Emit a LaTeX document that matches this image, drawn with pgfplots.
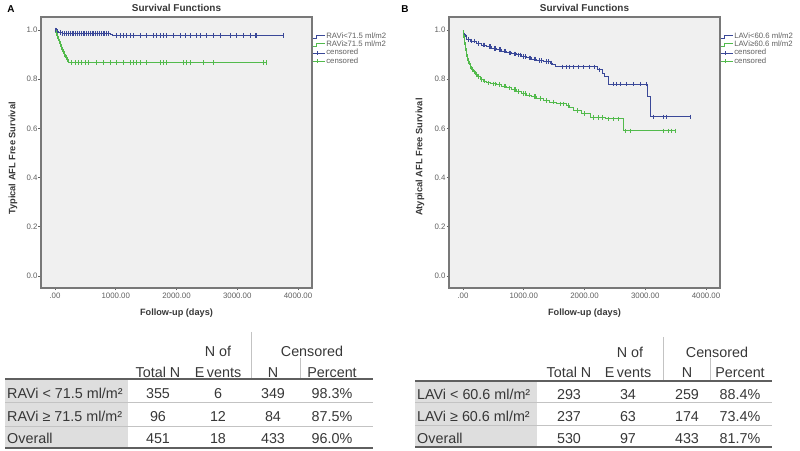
\documentclass[border=0pt]{standalone}
\usepackage{pgfplots}
\pgfplotsset{compat=1.18}
\usepackage{fontspec}
\setmainfont{Liberation Sans}
\definecolor{kmblue}{RGB}{58,72,152}
\definecolor{kmgreen}{RGB}{82,186,76}
\definecolor{tickgray}{RGB}{95,95,95}
\definecolor{txt}{RGB}{55,55,55}
\definecolor{bggray}{RGB}{240,240,240}
\definecolor{framegray}{RGB}{120,120,120}
\definecolor{cellgray}{RGB}{222,222,222}
\definecolor{rulegray}{RGB}{95,95,95}
\definecolor{sepgray}{RGB}{195,195,195}
\pgfplotsset{
 every axis title shift=0pt,
 kmaxis/.style={
  scale only axis, width=271bp, height=271bp,
  xmin=-230, xmax=4230, ymin=-0.049, ymax=1.053,
  xtick={0,1000,2000,3000,4000},
  xticklabels={.00,1000.00,2000.00,3000.00,4000.00},
  ytick={0,0.2,0.4,0.6,0.8,1.0},
  yticklabels={0.0,0.2,0.4,0.6,0.8,1.0},
  tick align=outside, xtick pos=bottom, ytick pos=left,
  major tick length=2.5bp,
  tick style={tickgray, line width=0.6bp},
  axis line style={draw=framegray, line width=1.2bp},
  axis background/.style={fill=bggray},
  ticklabel style={font=\fontsize{7.9}{8.5}\selectfont, text=tickgray},
  yticklabel style={inner xsep=0.8bp},
  xticklabel style={inner ysep=2bp},
  title style={font=\bfseries\fontsize{10}{12}\selectfont, text=txt,
    at={(axis description cs:0.5,1)}, anchor=south, yshift=1.5bp},
  xlabel style={font=\bfseries\fontsize{9.2}{11}\selectfont, text=txt,
    at={(axis description cs:0.5,-0.092)}, anchor=center},
  ylabel style={font=\bfseries\fontsize{9.3}{11}\selectfont, text=txt, anchor=center},
  legend style={at={(1,0.945)}, anchor=north west, xshift=1bp, draw=none, fill=none,
    font=\fontsize{7.8}{8.5}\selectfont, text=tickgray, inner sep=0pt,
    row sep=0bp, nodes={inner sep=0.6bp}},
  legend cell align=left,
 },
 stepleg/.style={legend image code/.code={\draw[##1, line width=0.5bp] (0bp,-1.5bp) -- (3bp,-1.5bp) -- (3bp,1.5bp) -- (12bp,1.5bp);}},
 censleg/.style={legend image code/.code={\draw[##1, line width=0.5bp] (0bp,0bp) -- (12bp,0bp); \draw[##1, line width=0.5bp] (4bp,-2bp) -- (4bp,2bp);}},
 km/.style={const plot, line width=0.9bp, no marks},
 cens/.style={only marks, mark=|, mark size=2.3bp, mark options={line width=0.8bp}},
}
\begin{document}
\begin{tikzpicture}[x=1bp,y=1bp]
\path[use as bounding box] (0bp,0bp) rectangle (800bp,451bp);

% ---------------- Panel A ----------------
\node[font=\bfseries\fontsize{10}{12}\selectfont, text=black] at (11bp,442bp) {A};
\begin{axis}[kmaxis, at={(41bp,434bp)}, anchor=north west,
  title={Survival Functions}, xlabel={Follow-up (days)},
  ylabel={Typical AFL Free Survival},
  ylabel style={at={(axis description cs:-0.103,0.478)}}]
\addplot[km, kmblue, forget plot] coordinates {(0,1)(10,0.997)(30,0.994)(60,0.991)(120,0.987)(905,0.982)(940,0.978)(3760,0.978)};
\addplot[km, kmgreen, forget plot] coordinates {(0,1)(10,0.989)(25,0.978)(45,0.967)(60,0.956)(75,0.945)(95,0.934)(110,0.923)(130,0.912)(150,0.901)(170,0.890)(190,0.879)(215,0.868)(3490,0.868)};
\addplot[cens, kmblue, forget plot] coordinates {(5,1)(20,0.997)(45,0.994)(90,0.991)(130,0.987)(160,0.987)(190,0.987)(220,0.987)(250,0.987)(280,0.987)(310,0.987)(340,0.987)(370,0.987)(400,0.987)(430,0.987)(460,0.987)(490,0.987)(520,0.987)(550,0.987)(580,0.987)(610,0.987)(640,0.987)(670,0.987)(700,0.987)(730,0.987)(760,0.987)(790,0.987)(820,0.987)(850,0.987)(880,0.987)
(1016,0.978)(1071,0.978)(1125,0.978)(1180,0.978)(1235,0.978)(1290,0.978)(1400,0.978)(1510,0.978)(1620,0.978)(1674,0.978)(1729,0.978)(1784,0.978)(1839,0.978)(1949,0.978)(2059,0.978)(2141,0.978)(2223,0.978)(2333,0.978)(2388,0.978)(2498,0.978)(2608,0.978)(2717,0.978)(2882,0.978)(2992,0.978)(3102,0.978)(3211,0.978)(3294,0.978)(3321,0.978)(3760,0.978)};
\addplot[cens, kmgreen, forget plot] coordinates {(18,0.989)(38,0.978)(52,0.967)(68,0.956)(85,0.945)(102,0.934)(120,0.923)(140,0.912)(160,0.901)(180,0.890)(200,0.879)
(274,0.868)(329,0.868)(384,0.868)(439,0.868)(494,0.868)(549,0.868)(686,0.868)(796,0.868)(906,0.868)(1016,0.868)(1125,0.868)(1235,0.868)(1290,0.868)(1345,0.868)(1400,0.868)(1510,0.868)(1729,0.868)(1784,0.868)(1839,0.868)(2114,0.868)(2168,0.868)(2223,0.868)(2443,0.868)(2608,0.868)(3431,0.868)(3486,0.868)};
\addlegendimage{stepleg, kmblue}
\addlegendentry{RAVi<71.5 ml/m2}
\addlegendimage{stepleg, kmgreen}
\addlegendentry{RAVi≥71.5 ml/m2}
\addlegendimage{censleg, kmblue}
\addlegendentry{censored}
\addlegendimage{censleg, kmgreen}
\addlegendentry{censored}
\end{axis}

% ---------------- Panel B ----------------
\node[font=\bfseries\fontsize{10}{12}\selectfont, text=black] at (405bp,442bp) {B};
\begin{axis}[kmaxis, at={(449bp,434bp)}, anchor=north west,
  title={Survival Functions}, xlabel={Follow-up (days)},
  ylabel={Atypical AFL Free Survival},
  ylabel style={at={(axis description cs:-0.107,0.483)}}]
\addplot[km, kmblue, forget plot] coordinates {(0,1)(5,0.99)(15,0.98)(40,0.972)(60,0.962)(120,0.955)(225,0.946)(300,0.939)(390,0.932)(470,0.926)(554,0.921)(640,0.914)(719,0.907)(800,0.903)(883,0.899)(960,0.893)(1048,0.887)(1130,0.882)(1213,0.876)(1320,0.872)(1432,0.866)(1480,0.858)(1514,0.850)(2210,0.838)(2300,0.825)(2330,0.81)(2400,0.78)(3029,0.728)(3078,0.647)(3750,0.647)};
\addplot[km, kmgreen, forget plot] coordinates {(0,1)(5,0.985)(12,0.97)(20,0.955)(30,0.94)(40,0.925)(50,0.91)(60,0.893)(75,0.878)(90,0.866)(115,0.852)(140,0.84)(170,0.83)(200,0.82)(240,0.81)(280,0.80)(330,0.792)(390,0.785)(460,0.781)(554,0.778)(640,0.772)(719,0.765)(800,0.757)(883,0.75)(960,0.742)(1048,0.735)(1130,0.729)(1213,0.722)(1322,0.714)(1430,0.707)(1542,0.70)(1706,0.694)(1760,0.684)(1816,0.673)(1950,0.66)(2090,0.645)(2350,0.639)(2634,0.59)(3490,0.59)};
\addplot[cens, kmblue, forget plot] coordinates {(25,0.98)(50,0.972)(90,0.962)(145,0.955)(190,0.955)(260,0.946)(340,0.939)(360,0.939)(430,0.932)(450,0.932)(510,0.926)(530,0.926)(600,0.921)(620,0.921)(680,0.914)(700,0.914)(760,0.907)(780,0.907)(840,0.903)(860,0.903)(920,0.899)(940,0.899)(1000,0.893)(1020,0.893)(1090,0.887)(1110,0.887)(1170,0.882)(1190,0.882)(1260,0.876)(1290,0.876)(1370,0.872)(1400,0.872)(1455,0.866)(1640,0.85)(1700,0.85)(1755,0.85)(1810,0.85)(1892,0.85)(1975,0.85)(2085,0.85)(2167,0.85)(2250,0.838)(2474,0.78)(2529,0.78)(2584,0.78)(2694,0.78)(2803,0.78)(2913,0.78)(3023,0.78)(3133,0.647)(3298,0.647)(3353,0.647)(3750,0.647)};
\addplot[cens, kmgreen, forget plot] coordinates {(8,0.985)(16,0.97)(25,0.955)(35,0.94)(45,0.925)(55,0.91)(68,0.893)(82,0.878)(100,0.866)(128,0.852)(155,0.84)(185,0.83)(220,0.82)(260,0.81)(300,0.80)(360,0.792)(420,0.785)(500,0.781)(530,0.781)(600,0.778)(680,0.772)(700,0.772)(760,0.765)(840,0.757)(860,0.757)(920,0.75)(1000,0.742)(1020,0.742)(1090,0.735)(1170,0.729)(1190,0.729)(1270,0.722)(1380,0.714)(1480,0.707)(1600,0.70)(1650,0.70)(1730,0.694)(1880,0.673)(2000,0.66)(2150,0.645)(2230,0.645)(2300,0.645)(2400,0.639)(2480,0.639)(2560,0.639)(2680,0.59)(2750,0.59)(3300,0.59)(3380,0.59)(3430,0.59)(3490,0.59)};
\addlegendimage{stepleg, kmblue}
\addlegendentry{LAVi<60.6 ml/m2}
\addlegendimage{stepleg, kmgreen}
\addlegendentry{LAVi≥60.6 ml/m2}
\addlegendimage{censleg, kmblue}
\addlegendentry{censored}
\addlegendimage{censleg, kmgreen}
\addlegendentry{censored}
\end{axis}

% ---------------- Table A ----------------
\begin{scope}[every node/.style={font=\fontsize{14.4}{16}\selectfont, text=txt, inner sep=0pt, anchor=base}]
\fill[cellgray] (5,72) rectangle (128,3);
\draw[sepgray, line width=0.8bp] (251,119) -- (251,72);
\draw[sepgray, line width=0.8bp] (300,93) -- (300,72);
\draw[sepgray, line width=0.8bp] (5,49) -- (373,49);
\draw[sepgray, line width=0.8bp] (5,25) -- (373,25);
\draw[rulegray, line width=1.8bp] (5,72) -- (373,72);
\draw[rulegray, line width=1.8bp] (5,3) -- (373,3);
\node at (218,95) {N of};
\node at (312,95) {Censored};
\node at (158,74) {Total N};
\node at (218,74) {E\hspace{2.5bp}vents};
\node at (273,74) {N};
\node at (332,74) {Percent};
\node[anchor=base west] at (7,53) {RAVi < 71.5 ml/m²};
\node[anchor=base west] at (7,30) {RAVi ≥ 71.5 ml/m²};
\node[anchor=base west] at (7,8) {Overall};
\node at (158,53) {355}; \node at (218,53) {6}; \node at (273,53) {349}; \node at (332,53) {98.3\%};
\node at (158,30) {96}; \node at (218,30) {12}; \node at (273,30) {84}; \node at (332,30) {87.5\%};
\node at (158,8) {451}; \node at (218,8) {18}; \node at (273,8) {433}; \node at (332,8) {96.0\%};
\end{scope}

% ---------------- Table B ----------------
\begin{scope}[every node/.style={font=\fontsize{14.4}{16}\selectfont, text=txt, inner sep=0pt, anchor=base}]
\fill[cellgray] (415,70) rectangle (537,4);
\draw[sepgray, line width=0.8bp] (663,114) -- (663,70);
\draw[sepgray, line width=0.8bp] (710,93) -- (710,70);
\draw[sepgray, line width=0.8bp] (415,49) -- (772,49);
\draw[sepgray, line width=0.8bp] (415,26) -- (772,26);
\draw[rulegray, line width=1.8bp] (415,70) -- (772,70);
\draw[rulegray, line width=1.8bp] (415,4) -- (772,4);
\node at (630,94) {N of};
\node at (717,94) {Censored};
\node at (569,74) {Total N};
\node at (628,74) {E\hspace{2.5bp}vents};
\node at (687,74) {N};
\node at (740,74) {Percent};
\node[anchor=base west] at (417,52) {LAVi < 60.6 ml/m²};
\node[anchor=base west] at (417,30) {LAVi ≥ 60.6 ml/m²};
\node[anchor=base west] at (417,8) {Overall};
\node at (569,52) {293}; \node at (628,52) {34}; \node at (687,52) {259}; \node at (740,52) {88.4\%};
\node at (569,30) {237}; \node at (628,30) {63}; \node at (687,30) {174}; \node at (740,30) {73.4\%};
\node at (569,8) {530}; \node at (628,8) {97}; \node at (687,8) {433}; \node at (740,8) {81.7\%};
\end{scope}
\end{tikzpicture}
\end{document}
